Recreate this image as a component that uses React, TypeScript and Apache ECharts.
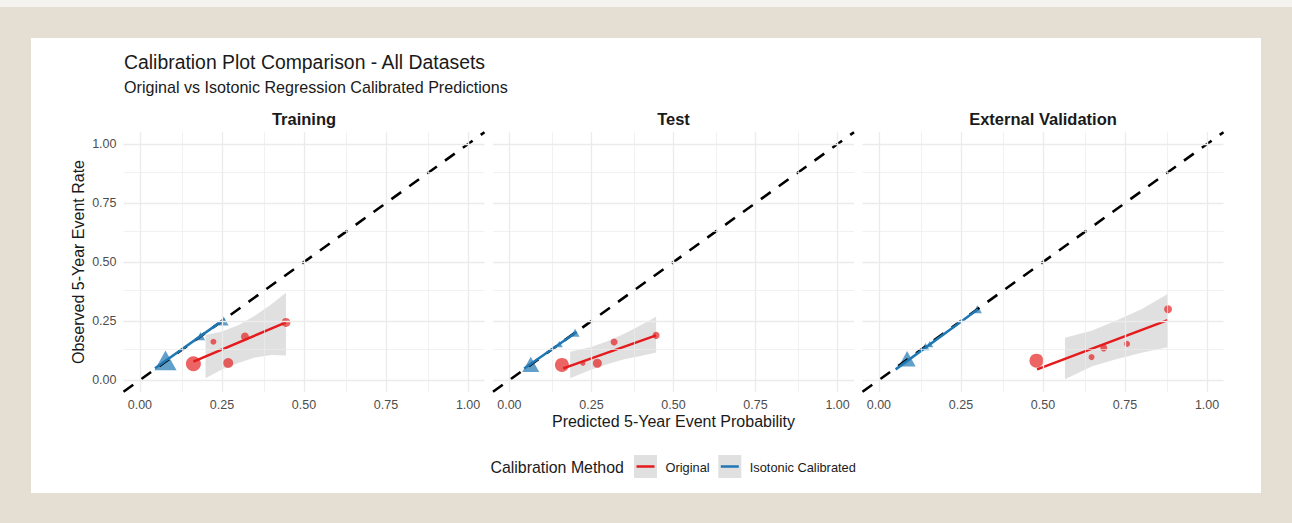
import React, { useEffect, useRef } from "react";
import * as echarts from "echarts";

// ---- data -------------------------------------------------------------
const panelNames = ["Training", "Test", "External Validation"];
const methods = ["Original", "Isotonic Calibrated"];
const majorTicks = [0, 0.25, 0.5, 0.75, 1];
const minorTicks = [0.125, 0.375, 0.625, 0.875];
const diagonal = [[-0.05, -0.05], [1.05, 1.05]];

// Training – original model bins [predicted, observed], bin marker diameter
const trainOrigX = [0.163, 0.224, 0.269, 0.32, 0.445];
const trainOrigY = [0.069, 0.162, 0.072, 0.184, 0.244];
const trainOrigSize = [15, 6, 10, 8, 9];
const trainOrigFit = [[0.163, 0.078], [0.445, 0.244]];
const trainBandX = [0.2, 0.25, 0.3, 0.35, 0.4, 0.445];
const trainBandLo = [0.007, 0.045, 0.072, 0.095, 0.106, 0.104];
const trainBandHi = [0.191, 0.205, 0.232, 0.272, 0.32, 0.37];
// Training – isotonic calibrated bins
const trainIsoX = [0.078, 0.185, 0.255];
const trainIsoY = [0.083, 0.186, 0.25];
const trainIsoSize = [22, 9, 10];
const trainIsoFit = [[0.046, 0.05], [0.258, 0.258]];

// Test
const testOrigX = [0.16, 0.224, 0.268, 0.319, 0.447];
const testOrigY = [0.064, 0.071, 0.071, 0.161, 0.189];
const testOrigSize = [14, 5, 9, 7, 7];
const testOrigFit = [[0.164, 0.049], [0.447, 0.189]];
const testBandX = [0.185, 0.25, 0.3, 0.35, 0.4, 0.447];
const testBandLo = [0.007, 0.045, 0.068, 0.088, 0.102, 0.116];
const testBandHi = [0.12, 0.14, 0.165, 0.196, 0.232, 0.268];
const testIsoX = [0.065, 0.152, 0.2];
const testIsoY = [0.066, 0.152, 0.2];
const testIsoSize = [17, 7, 9];
const testIsoFit = [[0.045, 0.049], [0.205, 0.203]];

// External validation
const extOrigX = [0.48, 0.648, 0.685, 0.756, 0.881];
const extOrigY = [0.082, 0.097, 0.136, 0.153, 0.3];
const extOrigSize = [14, 6, 7, 6, 8];
const extOrigFit = [[0.482, 0.045], [0.88, 0.254]];
const extBandX = [0.567, 0.65, 0.72, 0.8, 0.88];
const extBandLo = [0.003, 0.058, 0.087, 0.115, 0.139];
const extBandHi = [0.179, 0.21, 0.25, 0.3, 0.364];
const extIsoX = [0.086, 0.142, 0.155, 0.3];
const extIsoY = [0.09, 0.141, 0.152, 0.3];
const extIsoSize = [17, 8, 7, 9];
const extIsoFit = [[0.051, 0.045], [0.302, 0.3]];

const panels = [
  { origX: trainOrigX, origY: trainOrigY, origSize: trainOrigSize, origFit: trainOrigFit, bandX: trainBandX, bandLo: trainBandLo, bandHi: trainBandHi, isoX: trainIsoX, isoY: trainIsoY, isoSize: trainIsoSize, isoFit: trainIsoFit },
  { origX: testOrigX, origY: testOrigY, origSize: testOrigSize, origFit: testOrigFit, bandX: testBandX, bandLo: testBandLo, bandHi: testBandHi, isoX: testIsoX, isoY: testIsoY, isoSize: testIsoSize, isoFit: testIsoFit },
  { origX: extOrigX, origY: extOrigY, origSize: extOrigSize, origFit: extOrigFit, bandX: extBandX, bandLo: extBandLo, bandHi: extBandHi, isoX: extIsoX, isoY: extIsoY, isoSize: extIsoSize, isoFit: extIsoFit },
];

// ---- styling ----------------------------------------------------------
const FONT = '"Liberation Sans", Arial, Helvetica, sans-serif';
const RED = "#e41a1c";
const BLUE = "#1f78b4";
const BAND = "rgba(153,153,153,0.3)";
const GRID_COLOR = "#ebebeb";
const TEXT = "#1a1a1a";
const TICK_TEXT = "#4d4d4d";
const methodColors = [RED, BLUE];

const PANEL_LEFT = [123.5, 493, 862.5];
const PANEL_W = 361;
const PANEL_TOP = 132.2;
const PANEL_H = 259.6;

function buildOption() {
  const grid = PANEL_LEFT.map((left) => ({ left, top: PANEL_TOP, width: PANEL_W, height: PANEL_H }));

  const tickLabel = {
    customValues: majorTicks,
    formatter: (v: number) => v.toFixed(2),
    color: TICK_TEXT,
    fontSize: 12.5,
    fontFamily: FONT,
    margin: 7,
  };

  const xAxis = PANEL_LEFT.map((_, i) => ({
    type: "value",
    gridIndex: i,
    min: -0.05,
    max: 1.05,
    axisLine: { show: false },
    axisTick: { show: false },
    splitLine: { show: false },
    axisLabel: tickLabel,
    name: i === 1 ? "Predicted 5-Year Event Probability" : "",
    nameLocation: "middle",
    nameGap: 22,
    nameTextStyle: { color: TEXT, fontSize: 16, fontFamily: FONT },
  }));

  const yAxis = PANEL_LEFT.map((_, i) => ({
    type: "value",
    gridIndex: i,
    min: -0.05,
    max: 1.05,
    axisLine: { show: false },
    axisTick: { show: false },
    splitLine: { show: false },
    axisLabel: { ...tickLabel, show: i === 0 },
    name: i === 0 ? "Observed 5-Year Event Rate" : "",
    nameLocation: "middle",
    nameGap: 37,
    nameTextStyle: { color: TEXT, fontSize: 16, fontFamily: FONT },
  }));

  const series: any[] = [];
  panels.forEach((p, i) => {
    // panel gridlines
    series.push({
      type: "line",
      xAxisIndex: i,
      yAxisIndex: i,
      data: [diagonal[0]],
      showSymbol: false,
      lineStyle: { opacity: 0 },
      silent: true,
      z: 0,
      markLine: {
        silent: true,
        symbol: ["none", "none"],
        label: { show: false },
        animation: false,
        data: [
          ...minorTicks.map((v) => ({ xAxis: v, lineStyle: { color: GRID_COLOR, width: 0.7, type: "solid" } })),
          ...minorTicks.map((v) => ({ yAxis: v, lineStyle: { color: GRID_COLOR, width: 0.7, type: "solid" } })),
          ...majorTicks.map((v) => ({ xAxis: v, lineStyle: { color: GRID_COLOR, width: 1.3, type: "solid" } })),
          ...majorTicks.map((v) => ({ yAxis: v, lineStyle: { color: GRID_COLOR, width: 1.3, type: "solid" } })),
        ],
      },
    });

    // confidence band of the original-model fit
    series.push({
      type: "custom",
      coordinateSystem: "cartesian2d",
      xAxisIndex: i,
      yAxisIndex: i,
      data: [[p.bandX[0], p.bandLo[0]]],
      silent: true,
      z: 1,
      renderItem: (_params: any, api: any) => {
        const upper = p.bandX.map((x, k) => api.coord([x, p.bandHi[k]]));
        const lower = p.bandX.map((x, k) => api.coord([x, p.bandLo[k]])).reverse();
        return {
          type: "polygon",
          shape: { points: upper.concat(lower) },
          style: { fill: BAND },
        };
      },
    });

    // original bins
    series.push({
      type: "scatter",
      name: methods[0],
      xAxisIndex: i,
      yAxisIndex: i,
      data: p.origX.map((x, k) => [x, p.origY[k], p.origSize[k]]),
      symbol: "circle",
      symbolSize: (v: number[]) => v[2],
      itemStyle: { color: RED, opacity: 0.68 },
      z: 2,
    });

    // isotonic bins
    series.push({
      type: "scatter",
      name: methods[1],
      xAxisIndex: i,
      yAxisIndex: i,
      data: p.isoX.map((x, k) => [x, p.isoY[k], p.isoSize[k]]),
      symbol: "triangle",
      symbolSize: (v: number[]) => [v[2], v[2] * 0.9],
      itemStyle: { color: BLUE, opacity: 0.7 },
      z: 2,
    });

    // perfect-calibration reference
    series.push({
      type: "line",
      xAxisIndex: i,
      yAxisIndex: i,
      data: diagonal,
      showSymbol: false,
      silent: true,
      lineStyle: { color: "#000", width: 2.6, type: [12, 10] },
      z: 3,
    });

    // linear fits
    series.push({
      type: "line",
      name: methods[0],
      xAxisIndex: i,
      yAxisIndex: i,
      data: p.origFit,
      showSymbol: false,
      lineStyle: { color: RED, width: 2.5 },
      z: 4,
    });
    series.push({
      type: "line",
      name: methods[1],
      xAxisIndex: i,
      yAxisIndex: i,
      data: p.isoFit,
      showSymbol: false,
      lineStyle: { color: BLUE, width: 2.5 },
      z: 4,
    });
  });

  const graphic: any[] = [
    { type: "rect", shape: { x: 0, y: 0, width: 1292, height: 7 }, style: { fill: "#f5f3ef" }, z: -10, silent: true },
    { type: "rect", shape: { x: 31, y: 38, width: 1230, height: 455 }, style: { fill: "#ffffff" }, z: -10, silent: true },
    {
      type: "text",
      x: 124,
      y: 62,
      style: { text: "Calibration Plot Comparison - All Datasets", fill: TEXT, font: `19.4px ${FONT}`, textVerticalAlign: "middle" },
    },
    {
      type: "text",
      x: 124,
      y: 87,
      style: { text: "Original vs Isotonic Regression Calibrated Predictions", fill: TEXT, font: `16.1px ${FONT}`, textVerticalAlign: "middle" },
    },
    ...panelNames.map((name, i) => ({
      type: "text",
      x: PANEL_LEFT[i] + PANEL_W / 2,
      y: 119,
      style: { text: name, fill: TEXT, font: `bold 16.5px ${FONT}`, textAlign: "center", textVerticalAlign: "middle" },
    })),
    {
      type: "text",
      x: 490.5,
      y: 467,
      style: { text: "Calibration Method", fill: TEXT, font: `15.9px ${FONT}`, textVerticalAlign: "middle" },
    },
  ];

  const keyX = [634, 718.3];
  methods.forEach((m, k) => {
    graphic.push({ type: "rect", shape: { x: keyX[k], y: 455, width: 23, height: 23 }, style: { fill: "#e0e0e0" } });
    graphic.push({
      type: "line",
      shape: { x1: keyX[k] + 2.5, y1: 466.5, x2: keyX[k] + 20.5, y2: 466.5 },
      style: { stroke: methodColors[k], lineWidth: 2.5 },
    });
    graphic.push({
      type: "text",
      x: keyX[k] + 31.5,
      y: 467,
      style: { text: m, fill: TEXT, font: `12.8px ${FONT}`, textVerticalAlign: "middle" },
    });
  });

  return {
    animation: false,
    backgroundColor: "#e5dfd3",
    grid,
    xAxis,
    yAxis,
    series,
    graphic,
  };
}

export default function App() {
  const ref = useRef<HTMLDivElement>(null);
  useEffect(() => {
    if (!ref.current) return;
    const chart = echarts.init(ref.current, undefined, { renderer: "svg" });
    chart.setOption(buildOption() as any);
    return () => chart.dispose();
  }, []);
  return <div ref={ref} style={{ position: "fixed", left: 0, top: 0, width: 1292, height: 523 }} />;
}
